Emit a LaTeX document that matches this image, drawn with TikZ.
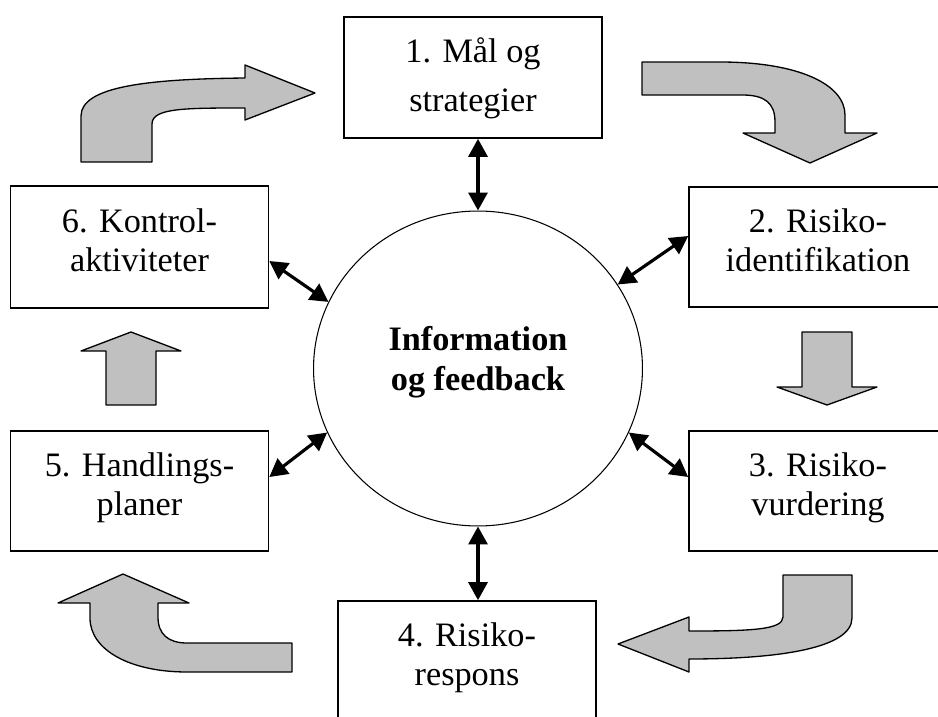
\documentclass[tikz,border=0pt]{standalone}
\usepackage{fontspec}
\setmainfont{Liberation Serif}
\usetikzlibrary{shapes.geometric,arrows.meta}
\definecolor{silver}{RGB}{192,192,192}
\pgfdeclarelayer{background layer}
\pgfsetlayers{background layer,main}
\newcommand\twolines[3][0.42cm]{\rule{0pt}{0.6cm}#2\\#3\rule[-#1]{0pt}{#1}}
\tikzstyle{box}=[rectangle,draw=black,line width=0.95pt,align=center,inner sep=0pt,minimum width=5.16cm,minimum height=2.4cm,font=\fontsize{19.5}{22.2}\selectfont]
\tikzstyle{hub}=[ellipse,draw=black,line width=0.6pt,inner sep=0pt,minimum width=6.58cm,minimum height=6.3cm,align=center,font=\fontsize{19.5}{23.3}\selectfont\bfseries]
\tikzstyle{link}=[arrows={Triangle[length=3.6mm,width=3.8mm]-Triangle[length=3.6mm,width=3.8mm]},line width=1.8pt]
\tikzstyle{cyclearrow}=[draw=black,fill=silver,line width=0.75pt,line join=round]

\begin{document}
\begin{tikzpicture}[x=0.02cm,y=-0.02cm]
			\useasboundingbox (0,0) rectangle (938,717);
			\node at (478,368.5) [hub] (info) {\twolines[0.52cm]{Information}{og feedback}};
			\node at (473,77.5) [box,minimum height=2.42cm,font=\fontsize{19.5}{28.4}\selectfont] (b1) {\twolines[0.22cm]{1. Mål og}{strategier}};
			\node at (818,247) [box] (b2) {\twolines{2. Risiko-}{identifikation}};
			\node at (818,491) [box] (b3) {\twolines{3. Risiko-}{vurdering}};
			\node at (467,661) [box] (b4) {\twolines{4. Risiko-}{respons}};
			\node at (139.5,491) [box] (b5) {\twolines{5. Handlings-}{planer}};
			\node at (139.5,247) [box,minimum height=2.44cm] (b6) {\twolines{6. Kontrol-}{aktiviteter}};
			\begin{pgfonlayer}{background layer}
				\draw [link] (b1.south -| info.north) -- (info.north);
				\draw [link] ([yshift=0.22cm]b2.west) -- (info.31.2);
				\draw [link] ([yshift=0.28cm]b3.west) -- (info.-23.6);
				\draw [link] (b4.north -| info.south) -- (info.south);
				\draw [link] ([yshift=0.28cm]b5.east) -- (info.203.6);
				\draw [link] ([yshift=-0.28cm]b6.east) -- (info.156.4);
			\end{pgfonlayer}
			% block arrows round the cycle
			\draw [cyclearrow] (81,162) -- (81,116) .. controls (81,86) and (150,79) .. (245,78) -- (245,65) -- (315,93) -- (245,120) -- (245,108) .. controls (185,108) and (152,108) .. (152,124) -- (152,162) -- cycle;
			\draw [cyclearrow] (642,62) -- (720,62) .. controls (800,62) and (845,85) .. (845,115) -- (845,133) -- (877,133) -- (810,163) -- (743,133) -- (775,133) -- (775,122) .. controls (775,103) and (765,95) .. (742,95) -- (642,95) -- cycle;
			\draw [cyclearrow] (802,332) -- (852,332) -- (852,387) -- (877,387) -- (827,405) -- (777,387) -- (802,387) -- cycle;
			\draw [cyclearrow] (783,575) -- (852,575) -- (852,618) .. controls (852,648) and (780,659) .. (689,659) -- (689,672) -- (618,644) -- (689,617) -- (689,631) .. controls (750,631) and (783,630) .. (783,617) -- cycle;
			\draw [cyclearrow] (292,643) -- (292,672) -- (187,672) .. controls (130,672) and (90,650) .. (90,618) -- (90,603) -- (58,603) -- (123,574) -- (189,603) -- (158,603) -- (158,617) .. controls (158,634) and (168,643) .. (187,643) -- cycle;
			\draw [cyclearrow] (106,405) -- (106,351) -- (81,351) -- (131,332) -- (181,351) -- (156,351) -- (156,405) -- cycle;
\end{tikzpicture}
\end{document}
